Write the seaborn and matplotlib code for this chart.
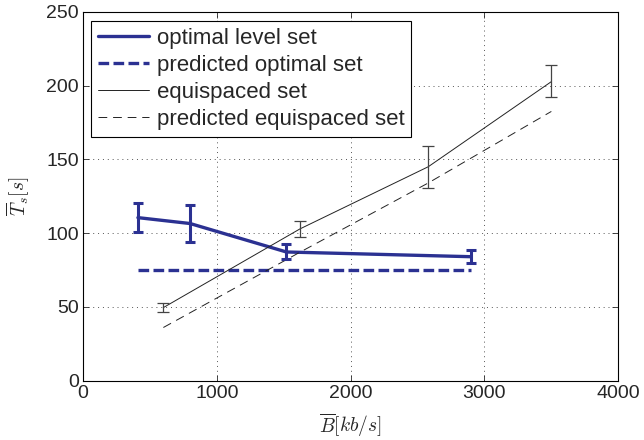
import numpy as np
import pandas as pd
import matplotlib
matplotlib.use("Agg")
import matplotlib.pyplot as plt
import seaborn as sns

# optimal level set
opt_x = [410, 800, 1520, 2900]
opt_y = [110.5, 106.5, 87.2, 84.0]
opt_lo = [100.7, 94.2, 82.2, 79.5]
opt_hi = [120.6, 118.9, 92.4, 88.5]

# predicted optimal set
pred_opt_x = [410, 2900]
pred_opt_y = [75, 75]

# equispaced set
eq_x = [600, 1620, 2580, 3500]
eq_y = [49.5, 102.8, 145.0, 202.7]
eq_lo = [46.7, 97.2, 130.8, 192.5]
eq_hi = [52.8, 108.4, 159.0, 214.0]

# predicted equispaced set
pred_eq_x = [600, 1620, 2580, 3500]
pred_eq_y = [36, 87, 134, 182.5]

x_ticks = [0, 1000, 2000, 3000, 4000]
y_ticks = [0, 50, 100, 150, 200, 250]

blue = "#2B3192"

sns.set_style("ticks")
plt.rcParams["font.family"] = ["Liberation Sans", "DejaVu Sans"]
plt.rcParams["mathtext.fontset"] = "cm"

fig = plt.figure(figsize=(6.44, 4.4), dpi=100)
ax = fig.add_axes([0.129, 0.135, 0.831, 0.838])

sns.lineplot(x=opt_x, y=opt_y, ax=ax, color=blue, linewidth=2.4,
             label="optimal level set")
sns.lineplot(x=pred_opt_x, y=pred_opt_y, ax=ax, color=blue, linewidth=2.4,
             linestyle=(0, (3.2, 1.3)), label="predicted optimal set")
sns.lineplot(x=eq_x, y=eq_y, ax=ax, color="#222222", linewidth=0.7,
             label="equispaced set")
sns.lineplot(x=pred_eq_x, y=pred_eq_y, ax=ax, color="#222222", linewidth=0.7,
             linestyle=(0, (9, 6)), label="predicted equispaced set")

opt_err = [np.array(opt_y) - np.array(opt_lo), np.array(opt_hi) - np.array(opt_y)]
ax.errorbar(opt_x, opt_y, yerr=opt_err, fmt="none", ecolor=blue,
            elinewidth=2.2, capsize=3.5, capthick=2.2)
eq_err = [np.array(eq_y) - np.array(eq_lo), np.array(eq_hi) - np.array(eq_y)]
ax.errorbar(eq_x, eq_y, yerr=eq_err, fmt="none", ecolor="#444444",
            elinewidth=0.9, capsize=4, capthick=0.9)

ax.set_xlim(0, 4000)
ax.set_ylim(0, 250)
ax.set_xticks(x_ticks)
ax.set_yticks(y_ticks)
ax.tick_params(direction="in", top=True, right=True, labelsize=14,
               length=4, width=0.6, pad=3)
for s in ax.spines.values():
    s.set_linewidth(0.8)
    s.set_color("black")
ax.grid(True, linestyle=(0, (1, 4)), color="#555555", linewidth=0.7)

ax.set_xlabel(r"$\overline{B}[kb/s]$", fontsize=14, labelpad=7)
ax.set_ylabel(r"$\overline{T}_s[s]$", fontsize=14, labelpad=10)

leg = ax.legend(loc="upper left", bbox_to_anchor=(0.014, 0.975), fontsize=16,
                frameon=True, fancybox=False, edgecolor="black",
                handlelength=2.3, handletextpad=0.35, labelspacing=0.26,
                borderpad=0.32, borderaxespad=0)
leg.get_frame().set_linewidth(0.8)
leg.get_frame().set_alpha(1)

fig.savefig("out.png", dpi=100)
